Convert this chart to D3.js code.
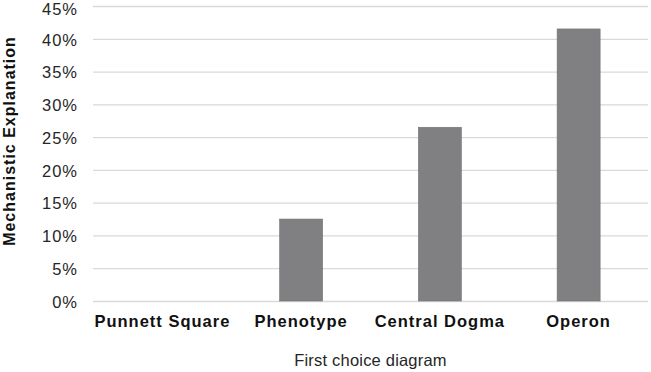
<!DOCTYPE html>
<html>
<head>
<meta charset="utf-8">
<script src="https://cdn.jsdelivr.net/npm/d3@7"></script>
<style>
  body { margin: 0; background: #fff; }
  text { font-family: "Liberation Sans", Arial, sans-serif; }
</style>
</head>
<body>
<div id="chart"></div>
<script>
const categories = ["Punnett Square", "Phenotype", "Central Dogma", "Operon"];
const values = [0, 12.5, 26.5, 41.5];
const yTicks = [0, 5, 10, 15, 20, 25, 30, 35, 40, 45];

const W = 651, H = 372;
const margin = { top: 6, right: 3, bottom: 71, left: 93 };
const width = W - margin.left - margin.right;
const height = H - margin.top - margin.bottom;

const svg = d3.select("#chart").append("svg")
    .attr("width", W)
    .attr("height", H);

const g = svg.append("g")
    .attr("transform", `translate(${margin.left},${margin.top})`);

const x = d3.scaleBand()
    .domain(categories)
    .range([0, width])
    .paddingInner(0.69)
    .paddingOuter(0.345);

const y = d3.scaleLinear()
    .domain([0, 45])
    .range([height, 0]);

// gridlines
g.selectAll(".grid")
    .data(yTicks)
    .enter().append("line")
    .attr("class", "grid")
    .attr("x1", 0)
    .attr("x2", width)
    .attr("y1", d => y(d) + 0.5)
    .attr("y2", d => y(d) + 0.5)
    .attr("stroke", "#d9d9d9")
    .attr("stroke-width", 1.3);

// y tick labels (top one nudged down so it is not cut off)
g.selectAll(".ytick")
    .data(yTicks)
    .enter().append("text")
    .attr("class", "ytick")
    .attr("x", -15)
    .attr("y", d => y(d) + (d === 45 ? 3 : 1))
    .attr("dy", "0.35em")
    .attr("text-anchor", "end")
    .style("font-size", "16.5px")
    .style("letter-spacing", "1px")
    .attr("fill", "#262626")
    .text(d => d + "%");

// bars
g.selectAll(".bar")
    .data(categories)
    .enter().append("rect")
    .attr("class", "bar")
    .attr("x", d => x(d))
    .attr("y", (d, i) => y(values[i]))
    .attr("width", x.bandwidth())
    .attr("height", (d, i) => height - y(values[i]))
    .attr("fill", "#808083")
    .attr("stroke", "#727275")
    .attr("stroke-width", 0.6);

// x category labels
g.selectAll(".xlabel")
    .data(categories)
    .enter().append("text")
    .attr("class", "xlabel")
    .attr("x", d => x(d) + x.bandwidth() / 2)
    .attr("y", 321)
    .attr("text-anchor", "middle")
    .style("font-size", "16.5px")
    .style("font-weight", "bold")
    .style("letter-spacing", "1px")
    .attr("fill", "#111")
    .text(d => d);

// x axis title
svg.append("text")
    .attr("x", margin.left + width / 2)
    .attr("y", 366)
    .attr("text-anchor", "middle")
    .style("font-size", "16.5px")
    .style("letter-spacing", "0.2px")
    .attr("fill", "#262626")
    .text("First choice diagram");

// y axis title
svg.append("text")
    .attr("transform", "translate(15,141) rotate(-90)")
    .attr("text-anchor", "middle")
    .style("font-size", "16px")
    .style("font-weight", "bold")
    .style("letter-spacing", "1px")
    .attr("fill", "#111")
    .text("Mechanistic Explanation");
</script>
</body>
</html>
